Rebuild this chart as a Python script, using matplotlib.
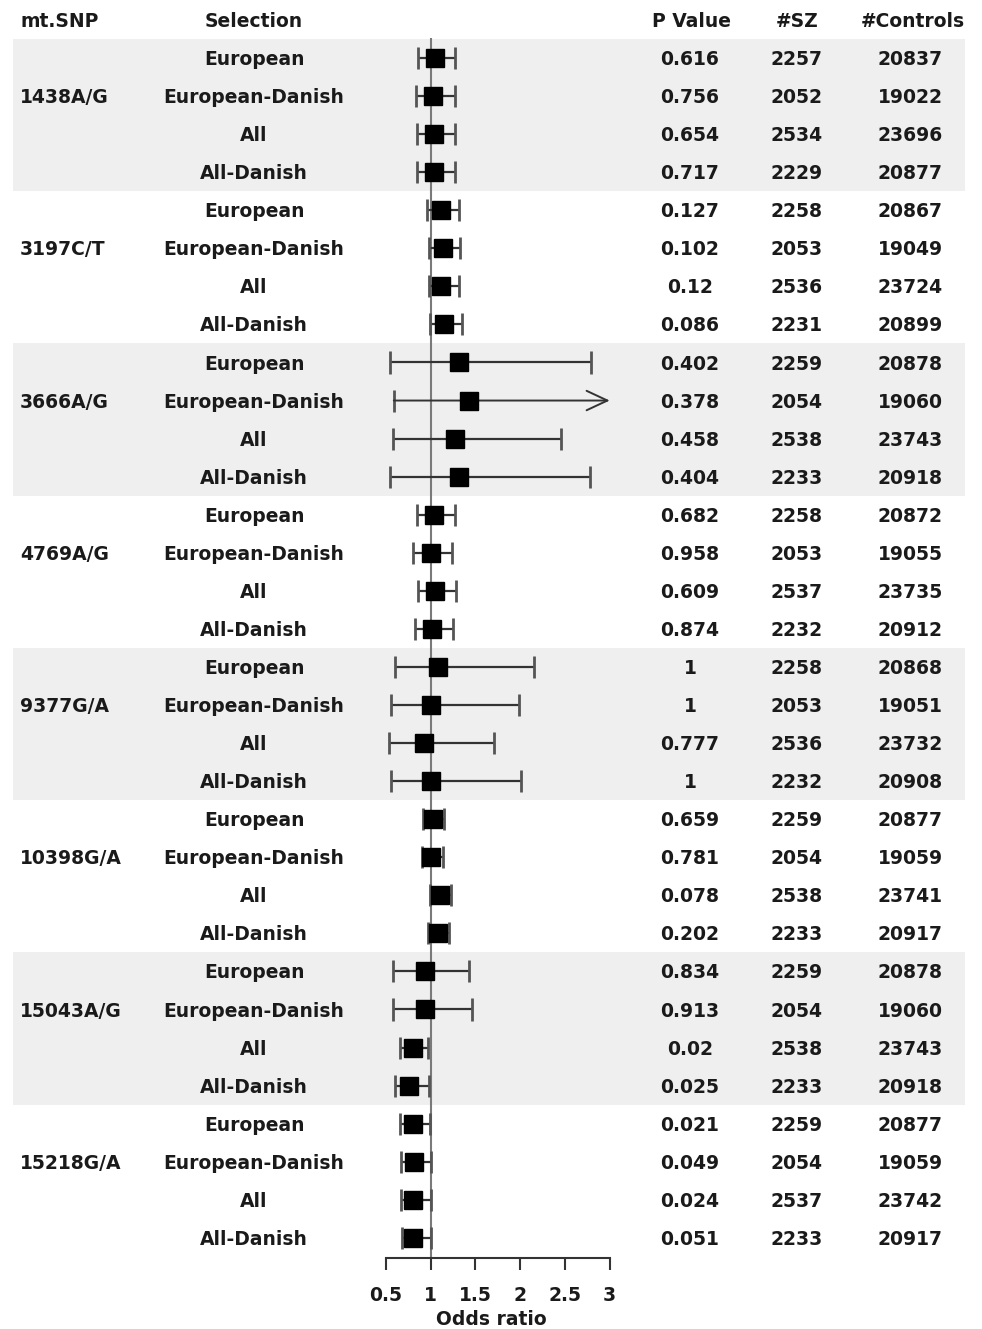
import numpy as np
import matplotlib
matplotlib.use("Agg")
import matplotlib.pyplot as plt
from matplotlib.transforms import blended_transform_factory

# mtDNA SNP association results
snps = ["1438A/G", "3197C/T", "3666A/G", "4769A/G",
        "9377G/A", "10398G/A", "15043A/G", "15218G/A"]
selections = ["European", "European-Danish", "All", "All-Danish"]

odds_ratio = [1.05, 1.03, 1.04, 1.04,
              1.12, 1.14, 1.12, 1.15,
              1.32, 1.43, 1.27, 1.32,
              1.04, 1.01, 1.05, 1.02,
              1.08, 1.00, 0.93, 1.01,
              1.03, 1.01, 1.11, 1.08,
              0.94, 0.94, 0.80, 0.76,
              0.80, 0.82, 0.81, 0.81]
ci_low = [0.86, 0.84, 0.85, 0.85,
          0.96, 0.98, 0.98, 0.99,
          0.55, 0.59, 0.58, 0.55,
          0.85, 0.81, 0.86, 0.83,
          0.60, 0.56, 0.54, 0.56,
          0.92, 0.91, 0.99, 0.97,
          0.58, 0.58, 0.66, 0.60,
          0.66, 0.67, 0.67, 0.68]
ci_high = [1.27, 1.27, 1.27, 1.27,
           1.32, 1.33, 1.32, 1.35,
           2.79, 3.20, 2.46, 2.78,
           1.27, 1.24, 1.28, 1.25,
           2.15, 1.99, 1.71, 2.01,
           1.15, 1.14, 1.23, 1.21,
           1.43, 1.46, 0.97, 0.98,
           0.99, 1.01, 1.00, 1.00]
p_values = ["0.616", "0.756", "0.654", "0.717",
            "0.127", "0.102", "0.12", "0.086",
            "0.402", "0.378", "0.458", "0.404",
            "0.682", "0.958", "0.609", "0.874",
            "1", "1", "0.777", "1",
            "0.659", "0.781", "0.078", "0.202",
            "0.834", "0.913", "0.02", "0.025",
            "0.021", "0.049", "0.024", "0.051"]
n_sz = [2257, 2052, 2534, 2229,
        2258, 2053, 2536, 2231,
        2259, 2054, 2538, 2233,
        2258, 2053, 2537, 2232,
        2258, 2053, 2536, 2232,
        2259, 2054, 2538, 2233,
        2259, 2054, 2538, 2233,
        2259, 2054, 2537, 2233]
n_controls = [20837, 19022, 23696, 20877,
              20867, 19049, 23724, 20899,
              20878, 19060, 23743, 20918,
              20872, 19055, 23735, 20912,
              20868, 19051, 23732, 20908,
              20877, 19059, 23741, 20917,
              20878, 19060, 23743, 20918,
              20877, 19059, 23742, 20917]
or_ticks = [0.5, 1, 1.5, 2, 2.5, 3]

plt.rcParams['font.family'] = ['DejaVu Sans']
plt.rcParams['font.weight'] = 'bold'
FS = 13.5
TXT = "#1a1a1a"
DY = 0.04  # small nudge so text sits level with the squares

fig = plt.figure(figsize=(9.82, 13.29), dpi=100)
ax = fig.add_axes([0, 0, 1, 1])
ax.patch.set_alpha(0)
ax.set_xlim(-3.805, 7.155)
ax.set_ylim(33.395, -1.524)

n_rows = len(odds_ratio)
rows = np.arange(n_rows)
orr = np.array(odds_ratio)
lo = np.array(ci_low)
hi = np.array(ci_high)
x_max = or_ticks[-1]

# grey bands behind every other SNP
for g in range(0, len(snps), 2):
    ax.axhspan(4 * g - 0.5, 4 * g + 3.5, xmin=0.0132, xmax=0.9827,
               color="#efefef", lw=0, zorder=0)

# reference line at OR = 1
ax.vlines(1, -0.53, 31.53, color="#7a7a7a", lw=1.5, zorder=1)

# confidence intervals
clipped = hi > x_max
ax.hlines(rows[~clipped], lo[~clipped], hi[~clipped], color="#333333", lw=1.6, zorder=2)
cap = 0.29
ax.vlines(lo, rows - cap, rows + cap, color="#555555", lw=2, zorder=2)
ax.vlines(hi[~clipped], rows[~clipped] - cap, rows[~clipped] + cap,
          color="#555555", lw=2, zorder=2)
for r in rows[clipped]:
    ax.annotate("", xy=(x_max, r), xytext=(lo[r], r),
                arrowprops=dict(arrowstyle="->,head_length=1.5,head_width=0.7",
                                color="#333333", lw=1.4, shrinkA=0, shrinkB=0),
                zorder=2)

# point estimates
ax.plot(orr, rows, ls="none", marker="s", ms=13, color="black", zorder=3)

# table columns (x in figure fraction)
tr = blended_transform_factory(ax.transAxes, ax.transData)
W = 982.0
ax.text(20 / W, -1 + DY, "mt.SNP", transform=tr, ha="left", va="center", fontsize=FS, color=TXT)
ax.text(254 / W, -1 + DY, "Selection", transform=tr, ha="center", va="center", fontsize=FS, color=TXT)
ax.text(691 / W, -1 + DY, "P Value", transform=tr, ha="center", va="center", fontsize=FS, color=TXT)
ax.text(797 / W, -1 + DY, "#SZ", transform=tr, ha="center", va="center", fontsize=FS, color=TXT)
ax.text(913 / W, -1 + DY, "#Controls", transform=tr, ha="center", va="center", fontsize=FS, color=TXT)

for g, snp in enumerate(snps):
    ax.text(20 / W, 4 * g + 1 + DY, snp, transform=tr, ha="left", va="center",
            fontsize=FS, color=TXT)
for i in rows:
    y = i + DY
    ax.text(254 / W, y, selections[i % 4], transform=tr, ha="center", va="center",
            fontsize=FS, color=TXT)
    ax.text(690 / W, y, p_values[i], transform=tr, ha="center", va="center",
            fontsize=FS, color=TXT)
    ax.text(797 / W, y, str(n_sz[i]), transform=tr, ha="center", va="center",
            fontsize=FS, color=TXT)
    ax.text(910 / W, y, str(n_controls[i]), transform=tr, ha="center", va="center",
            fontsize=FS, color=TXT)

# odds ratio axis
for s in ["top", "left", "right"]:
    ax.spines[s].set_visible(False)
ax.spines["bottom"].set_position(("data", 31.53))
ax.spines["bottom"].set_bounds(or_ticks[0], or_ticks[-1])
ax.spines["bottom"].set_color("#333333")
ax.spines["bottom"].set_linewidth(1.5)
ax.set_xticks(or_ticks)
ax.set_xticklabels([f"{t:g}" for t in or_ticks], fontsize=FS, fontweight="bold", color=TXT)
ax.tick_params(axis="x", direction="out", length=8.5, width=1.5, color="#333333", pad=12)
ax.set_yticks([])
ax.set_xlabel("Odds ratio", fontsize=FS, fontweight="bold", color=TXT, labelpad=3)

fig.savefig("out.png", dpi=100)
